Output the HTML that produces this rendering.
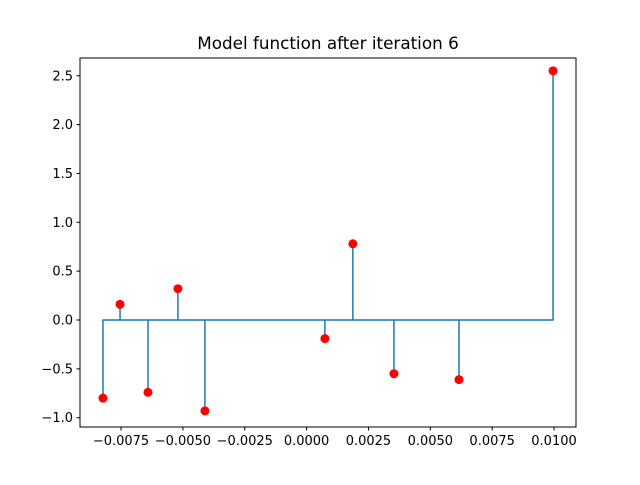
<!DOCTYPE html>
<html><head><meta charset="utf-8"><style>
body{margin:0;background:#fff}
svg text{font-family:"DejaVu Sans","Liberation Sans",sans-serif;fill:#000}
</style></head><body>
<svg id="c" width="640" height="480" xmlns="http://www.w3.org/2000/svg">
<rect width="640" height="480" fill="#fff"/>
<text x="328" y="49" font-size="16.8" text-anchor="middle">Model function after iteration 6</text>
<g id="g"></g>
<rect x="80" y="58" width="496" height="369" fill="none" stroke="#000" stroke-width="1"/>
</svg>
<script>
const xVals=[-0.00823,-0.00754,-0.00641,-0.00520,-0.00411,0.00074,0.00187,0.00353,0.00616,0.00996];
const yVals=[-0.80,0.16,-0.74,0.32,-0.93,-0.19,0.78,-0.55,-0.61,2.55];
const xTicks=[-0.0075,-0.005,-0.0025,0,0.0025,0.005,0.0075,0.01];
const xTickLabels=["−0.0075","−0.0050","−0.0025","0.0000","0.0025","0.0050","0.0075","0.0100"];
const yTicks=[-1,-0.5,0,0.5,1,1.5,2,2.5];
const yTickLabels=["−1.0","−0.5","0.0","0.5","1.0","1.5","2.0","2.5"];
const NS="http://www.w3.org/2000/svg";
const sx=v=>306.6+v*24743;
const sy=v=>320-v*97.7;
const g=document.getElementById('g');
function mk(t,a){const e=document.createElementNS(NS,t);for(const k in a)e.setAttribute(k,a[k]);g.appendChild(e);return e;}
xTicks.forEach((t,i)=>{
 const l=mk('line',{x1:sx(t),x2:sx(t),y1:427,y2:430.5,stroke:'#000'});
 
 
 const tx=mk('text',{x:sx(t),y:445,'font-size':13,'text-anchor':'middle'});
 tx.textContent=xTickLabels[i];
 
 
});
yTicks.forEach((t,i)=>{
 const l=mk('line',{x1:76.5,x2:80,y1:sy(t),y2:sy(t),stroke:'#000'});
 
 
 const tx=mk('text',{x:73,y:sy(t)+4.5,'font-size':13,'text-anchor':'end'});
 tx.textContent=yTickLabels[i];
 
 
});
let pts2=[];
xVals.forEach((x,i)=>{pts2.push(sx(x)+','+sy(0));pts2.push(sx(x)+','+sy(yVals[i]));pts2.push(sx(x)+','+sy(0));});
pts2[0]=sx(xVals[0])+','+sy(yVals[0]);
const pl=mk('polyline',{points:pts2.join(' '),fill:'none',stroke:'#1f77b4','stroke-width':1.5,'stroke-linejoin':'round'});


xVals.forEach((x,i)=>{
 const c=mk('circle',{cx:sx(x),cy:sy(yVals[i]),r:4.5,fill:'#ff0000'});
 
 
});
</script>
</body></html>
